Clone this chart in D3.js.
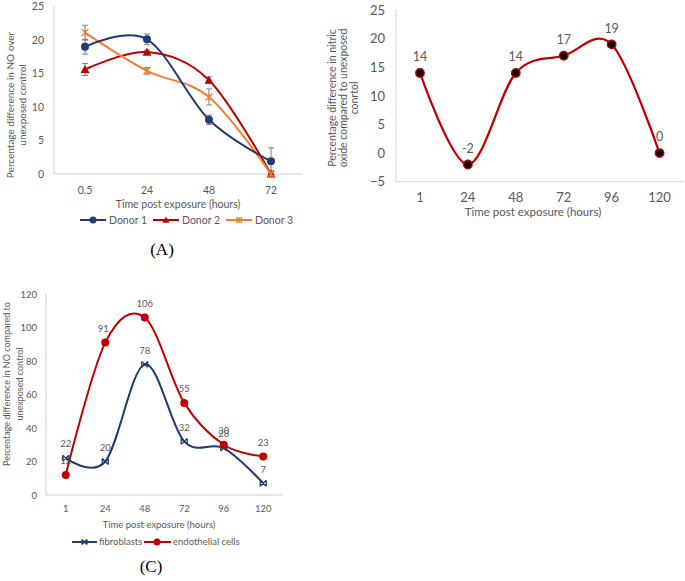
<!DOCTYPE html>
<html><head><meta charset="utf-8">
<script src="https://cdn.jsdelivr.net/npm/d3@7"></script>
<style>
body{margin:0;background:#fff;}
text{font-family:Lato,"Liberation Sans",sans-serif;}
</style></head>
<body><svg id="c" width="685" height="581"></svg>
<script>
// ---------- Data ----------
const catsA = ["0.5","24","48","72"];
const donor1 = [19, 20.1, 8.1, 1.9];
const donor1Err = [1.1, 0.8, 0.7, 2.0];
const donor2 = [15.6, 18.2, 14, 0];
const donor2Err = [0.9, 0.3, 0.5, 0.3];
const donor3 = [21.1, 15.4, 11.5, 0];
const donor3Err = [1.1, 0.5, 1.2, 0.5];
const ticksA = [0,5,10,15,20,25];

const catsB = ["1","24","48","72","96","120"];
const valuesB = [14,-2,14,17,19,0];
const errB = [0.7,0,0,0,0,0];
const ticksB = [-5,0,5,10,15,20,25];

const catsC = ["1","24","48","72","96","120"];
const fibroblasts = [22,20,78,32,28,7];
const endothelial = [12,91,106,55,30,23];
const ticksC = [0,20,40,60,80,100,120];

// ---------- Styles ----------
const NAVY="#1F3A75", RED="#C00000", ORANGE="#F0802F", GREY="#595959", AXIS="#D0D0D0", ERR="#7F7F7F";
const svg = d3.select("#c");
const curve = d3.curveCardinal.tension(0);

function markerCircle(g,x,y,r,fill,stroke,sw){
  g.append("circle").attr("cx",x).attr("cy",y).attr("r",r).attr("fill",fill).attr("stroke",stroke||"none").attr("stroke-width",sw||0);
}
function markerTri(g,x,y,s,fill){
  g.append("path").attr("d",`M${x},${y-s}L${x+s},${y+s*0.8}L${x-s},${y+s*0.8}Z`).attr("fill",fill);
}
function markerStar(g,x,y,s,col){
  g.append("path").attr("d",`M${x-s},${y-s}L${x+s},${y+s}M${x-s},${y+s}L${x+s},${y-s}M${x},${y-s}L${x},${y+s}`).attr("stroke",col).attr("stroke-width",1.3).attr("fill","none");
}
function markerBow(g,x,y,s,col){
  g.append("path").attr("d",`M${x-s},${y-s}L${x+s},${y+s}M${x-s},${y+s}L${x+s},${y-s}M${x-s},${y-s}L${x-s},${y+s}M${x+s},${y-s}L${x+s},${y+s}`).attr("stroke",col).attr("stroke-width",1.3).attr("fill","none");
}

function axes(g, x, y, ticks, opt){
  const ya = g.append("g").attr("transform",`translate(${x.range()[0]},0)`)
    .call(d3.axisLeft(y).tickValues(ticks).tickSize(0).tickPadding(opt.pad));
  ya.select(".domain").remove();
  ya.selectAll("text").attr("fill",GREY).attr("font-size",opt.fs);
  const xa = g.append("g").attr("transform",`translate(0,${y.range()[0]})`)
    .call(d3.axisBottom(x).tickSize(0));
  xa.select(".domain").remove();
  xa.selectAll("text").attr("fill",GREY).attr("font-size",opt.fs)
    .attr("y",opt.xlab).attr("dy","0.35em");
  g.append("line").attr("x1",x.range()[0]).attr("x2",x.range()[0]).attr("y1",y.range()[1]-1).attr("y2",y.range()[0]).attr("stroke",AXIS);
  g.append("line").attr("x1",x.range()[0]).attr("x2",x.range()[1]).attr("y1",y.range()[0]).attr("y2",y.range()[0]).attr("stroke",AXIS);
}
function txt(g,x,y,s,fs,opts){
  const t=g.append("text").attr("x",x).attr("y",y).attr("dy","0.35em").attr("text-anchor",(opts&&opts.anchor)||"middle")
    .attr("font-size",fs).attr("fill",(opts&&opts.fill)||GREY).text(s);
  if(opts&&opts.family) t.style("font-family",opts.family);
  return t;
}
function ytitle(g,cx,cy,lines,fs,gap){
  const t=g.append("g").attr("transform",`translate(${cx},${cy}) rotate(-90)`);
  lines.forEach((l,i)=>txt(t,0,i*gap,l,fs));
}
function errbars(g,x,y,vals,errs,cap){
  vals.forEach((v,i)=>{
    if(!errs[i]) return;
    const cx=x(x.domain()[i])+x.bandwidth()/2;
    const y1=y(v+errs[i]), y2=y(Math.max(v-errs[i], y.domain()[0]));
    g.append("path").attr("d",`M${cx},${y1}L${cx},${y2}M${cx-cap},${y1}L${cx+cap},${y1}M${cx-cap},${y2}L${cx+cap},${y2}`)
      .attr("stroke",ERR).attr("stroke-width",1).attr("fill","none");
  });
}
function series(g,x,y,vals,col,w){
  const pts = vals.map((v,i)=>[x(x.domain()[i])+x.bandwidth()/2, y(v)]);
  g.append("path").attr("d",d3.line().curve(curve)(pts)).attr("fill","none").attr("stroke",col).attr("stroke-width",w);
  return pts;
}
const SERIF="'Liberation Serif', 'DejaVu Serif', serif";

// ---------- Panel A ----------
{
  const g = svg.append("g");
  const x = d3.scaleBand().domain(catsA).range([54,302]);
  const y = d3.scaleLinear().domain([0,25]).range([174,6.5]);
  axes(g,x,y,ticksA,{pad:10,fs:10.5,xlab:16});
  errbars(g,x,y,donor1,donor1Err,3);
  errbars(g,x,y,donor2,donor2Err,3);
  errbars(g,x,y,donor3,donor3Err,3);
  const p2=series(g,x,y,donor2,RED,2);
  const p3=series(g,x,y,donor3,ORANGE,2);
  const p1=series(g,x,y,donor1,NAVY,2);
  p1.forEach(p=>markerCircle(g,p[0],p[1],4,NAVY));
  p2.forEach(p=>markerTri(g,p[0],p[1],4.5,RED));
  p3.forEach(p=>markerStar(g,p[0],p[1],3.5,ORANGE));
  txt(g,178,204,"Time post exposure (hours)",10.5);
  ytitle(g,10,105,["Percentage difference in NO over","unexposed control"],10,12);
  // legend
  const ly=220;
  g.append("line").attr("x1",80).attr("x2",106).attr("y1",ly).attr("y2",ly).attr("stroke",NAVY).attr("stroke-width",2);
  markerCircle(g,93,ly,3.5,NAVY);
  txt(g,109,ly,"Donor 1",10.5,{anchor:"start"});
  g.append("line").attr("x1",153).attr("x2",179).attr("y1",ly).attr("y2",ly).attr("stroke",RED).attr("stroke-width",2);
  markerTri(g,166,ly,3.5,RED);
  txt(g,182,ly,"Donor 2",10.5,{anchor:"start"});
  g.append("line").attr("x1",226).attr("x2",252).attr("y1",ly).attr("y2",ly).attr("stroke",ORANGE).attr("stroke-width",2);
  markerStar(g,239,ly,3,ORANGE);
  txt(g,255,ly,"Donor 3",10.5,{anchor:"start"});
  txt(g,162,249,"(A)",17,{fill:"#000",family:SERIF});
}

// ---------- Panel B ----------
{
  const g = svg.append("g");
  const x = d3.scaleBand().domain(catsB).range([396,683.5]);
  const y = d3.scaleLinear().domain([-5,25]).range([181.7,10]);
  axes(g,x,y,ticksB,{pad:11,fs:13,xlab:16});
  errbars(g,x,y,valuesB,errB,3);
  const p=series(g,x,y,valuesB,RED,2.2);
  p.forEach((pt,i)=>{
    markerCircle(g,pt[0],pt[1],4.2,"#000",RED,1.5);
    txt(g,pt[0],pt[1]-16,String(valuesB[i]),12.5);
  });
  txt(g,533,212,"Time post exposure (hours)",11.5);
  ytitle(g,332,98,["Percentage difference in nitric","oxide compared to unexposed","conrtol"],10.5,11);
}

// ---------- Panel C ----------
{
  const g = svg.append("g");
  const x = d3.scaleBand().domain(catsC).range([46,283]);
  const y = d3.scaleLinear().domain([0,120]).range([495,294]);
  axes(g,x,y,ticksC,{pad:9,fs:9.5,xlab:14});
  const pe=series(g,x,y,endothelial,RED,2);
  const pf=series(g,x,y,fibroblasts,NAVY,2);
  pf.forEach((pt,i)=>{
    markerBow(g,pt[0],pt[1],3,NAVY);
    txt(g,pt[0],pt[1]-14,String(fibroblasts[i]),9.5);
  });
  pe.forEach((pt,i)=>{
    markerCircle(g,pt[0],pt[1],4,RED);
    txt(g,pt[0]-(i===1?2:0),pt[1]-14,String(endothelial[i]),9.5);
  });
  txt(g,159,525,"Time post exposure (hours)",9.5);
  ytitle(g,7,384,["Percentage difference in NO compared to","unexposed control"],9,12.5);
  const ly=542;
  g.append("line").attr("x1",72).attr("x2",97).attr("y1",ly).attr("y2",ly).attr("stroke",NAVY).attr("stroke-width",2);
  markerBow(g,84.5,ly,2.5,NAVY);
  txt(g,99,ly,"fibroblasts",9.5,{anchor:"start"});
  g.append("line").attr("x1",144).attr("x2",171).attr("y1",ly).attr("y2",ly).attr("stroke",RED).attr("stroke-width",2);
  markerCircle(g,157,ly,3.5,RED);
  txt(g,173,ly,"endothelial cells",9.5,{anchor:"start"});
  txt(g,151,566,"(C)",17,{fill:"#000",family:SERIF});
}
</script></body></html>
